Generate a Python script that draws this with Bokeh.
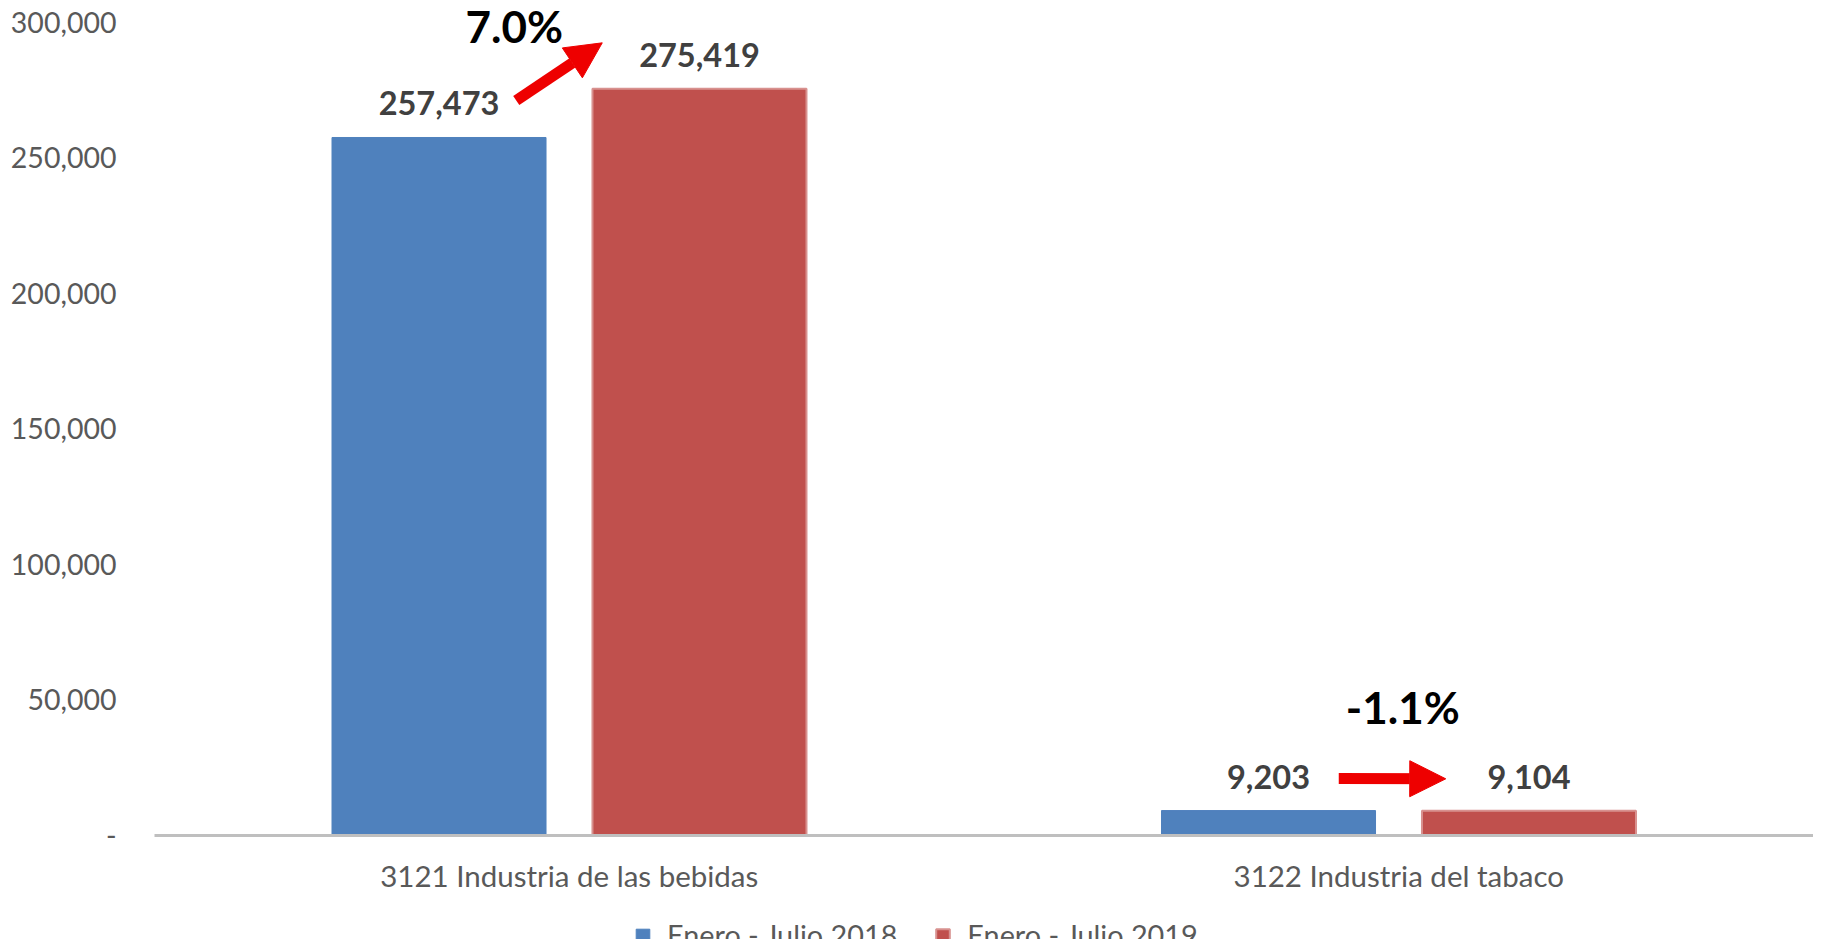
from bokeh.plotting import figure
from bokeh.models import (ColumnDataSource, Range1d, FixedTicker, Legend,
                          LegendItem, Arrow, NormalHead, Label)
from bokeh.core.properties import value
from bokeh.embed import file_html
from bokeh.resources import INLINE

# ---------------- data ----------------
categories = ["3121 Industria de las bebidas", "3122 Industria del tabaco"]
values_2018 = [257473, 9203]
values_2019 = [275419, 9104]
series_names = ["Enero - Julio 2018", "Enero - Julio 2019"]
y_ticks = [0, 50000, 100000, 150000, 200000, 250000, 300000]
y_tick_labels = ["-", "50,000", "100,000", "150,000", "200,000", "250,000", "300,000"]
source_note = "Fuente: INEGI"

# ---------------- styles / layout ----------------
BLUE = "#4F81BD"
RED = "#C0504D"
RED_EDGE = "#D8918F"
ARROW_RED = "#EE0000"
FONT = "Lato"
W, H = 1813, 939
PLOT_LEFT = 154          # px where the category area starts
ZERO_Y = 835             # px of the value 0
PX_PER_UNIT = 813.3 / 300000
CAT_PX = (W - PLOT_LEFT) / len(categories)
UPP = 1 / PX_PER_UNIT
BAR_OFF = 0.157
BAR_W = 0.258

x_start = -PLOT_LEFT / CAT_PX
x_end = (W - PLOT_LEFT) / CAT_PX
y_end = ZERO_Y * UPP
y_start = -(H - ZERO_Y) * UPP

centers = [i + 0.5 for i in range(len(categories))]
pct_text = ["{:.1f}%".format((b / a - 1) * 100) for a, b in zip(values_2018, values_2019)]

src = ColumnDataSource(dict(
    xc=centers,
    x18=[c - BAR_OFF for c in centers],
    x19=[c + BAR_OFF for c in centers],
    v18=values_2018,
    v19=values_2019,
    t18=["{:,}".format(v) for v in values_2018],
    t19=["{:,}".format(v) for v in values_2019],
    top=[max(a, b) for a, b in zip(values_2018, values_2019)],
    pct=pct_text,
    pdx=[-55, 4],
    pdy=[-63, -104],
))

p = figure(x_range=Range1d(x_start, x_end), y_range=Range1d(y_start, y_end),
           width=W, height=H, output_backend="svg", toolbar_location=None,
           min_border_left=0, min_border_right=0, min_border_top=0, min_border_bottom=0)
p.outline_line_color = None
p.xgrid.visible = False
p.ygrid.visible = False
p.background_fill_color = "white"

r18 = p.vbar(x="x18", top="v18", width=BAR_W, source=src,
             fill_color=BLUE, line_color=BLUE, line_width=1)
r19 = p.vbar(x="x19", top="v19", width=BAR_W, source=src,
             fill_color=RED, line_color=RED_EDGE, line_width=2)

# value labels
for xcol, ycol, tcol in (("x18", "v18", "t18"), ("x19", "v19", "t19")):
    p.text(x=xcol, y=ycol, text=tcol, source=src, y_offset=-34,
           text_align="center", text_baseline="middle",
           text_font=value(FONT), text_font_style="bold", text_font_size="32.5px",
           text_color="#404040")

# percent change labels
p.text(x="xc", y="top", text="pct", source=src, x_offset="pdx", y_offset="pdy",
       text_align="center", text_baseline="middle",
       text_font=value(FONT), text_font_style="bold", text_font_size="44px", text_color="black")

# arrows (tail near the 2018 label, tip near the 2019 label)
arrow_dx_tail = [-53, -60]
arrow_dy_tail = [37, 32]
arrow_dx_tip = [33, 47]
arrow_dy_tip = [46, 32]
for i, c in enumerate(centers):
    p.add_layout(Arrow(
        end=NormalHead(size=36, fill_color=ARROW_RED, line_color=ARROW_RED, line_width=1),
        x_start=c + arrow_dx_tail[i] / CAT_PX, y_start=values_2018[i] + arrow_dy_tail[i] * UPP,
        x_end=c + arrow_dx_tip[i] / CAT_PX, y_end=values_2019[i] + arrow_dy_tip[i] * UPP,
        line_color=ARROW_RED, line_width=11))

# y axis drawn at the left edge of the category area
p.yaxis.fixed_location = 0
p.yaxis.ticker = FixedTicker(ticks=y_ticks)
p.yaxis.major_label_overrides = {t: l for t, l in zip(y_ticks, y_tick_labels)}
p.yaxis.axis_line_color = None
p.yaxis.major_tick_line_color = None
p.yaxis.minor_tick_line_color = None
p.yaxis.major_tick_out = 0
p.yaxis.major_tick_in = 0
p.yaxis.major_label_standoff = 38
p.yaxis.major_label_text_font = FONT
p.yaxis.major_label_text_font_size = "28.5px"
p.yaxis.major_label_text_color = "#595959"

# x axis (categories) drawn at value 0
p.xaxis.fixed_location = 0
p.xaxis.bounds = (0, len(categories))
p.xaxis.ticker = FixedTicker(ticks=centers)
p.xaxis.major_label_overrides = {c: n for c, n in zip(centers, categories)}
p.xaxis.axis_line_color = "#BFBFBF"
p.xaxis.axis_line_width = 3
p.xaxis.major_tick_line_color = None
p.xaxis.minor_tick_line_color = None
p.xaxis.major_tick_out = 0
p.xaxis.major_tick_in = 0
p.xaxis.major_label_standoff = 22
p.xaxis.major_label_text_font = FONT
p.xaxis.major_label_text_font_size = "29.5px"
p.xaxis.major_label_text_color = "#595959"

legend = Legend(items=[LegendItem(label=series_names[0], renderers=[r18]),
                       LegendItem(label=series_names[1], renderers=[r19])],
                location=(634, -13), orientation="horizontal",
                glyph_width=17, glyph_height=17, label_standoff=16, spacing=37,
                padding=0, margin=0, border_line_color=None, background_fill_alpha=0,
                label_text_font=FONT, label_text_font_size="28.8px", label_text_color="#595959")
p.add_layout(legend)

p.add_layout(Label(x=99, y=4, x_units="screen", y_units="screen", text=source_note,
                   text_font=FONT, text_font_size="29.5px", text_color="black",
                   text_baseline="top"))

open("out.html", "w").write(file_html(p, INLINE))
